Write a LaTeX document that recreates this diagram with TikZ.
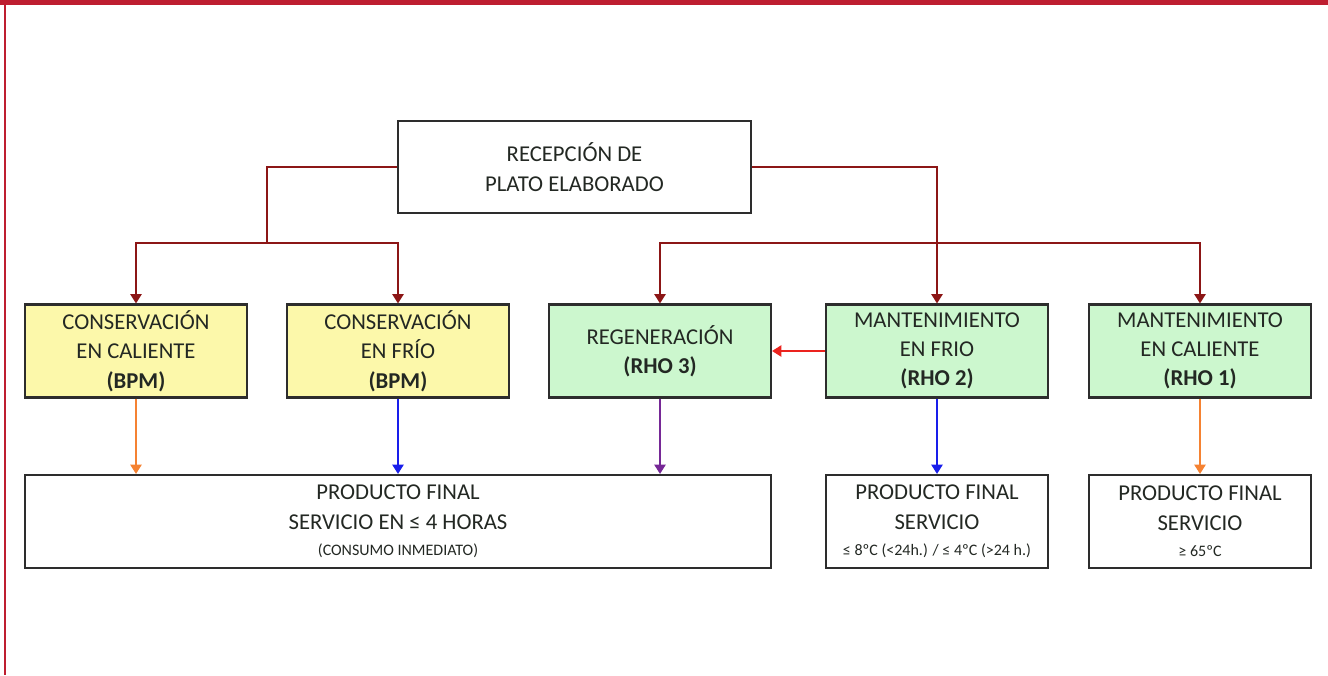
\documentclass[tikz,border=0pt]{standalone}
\usepackage{fontspec}
\setmainfont{Carlito}
\usetikzlibrary{arrows.meta}

\definecolor{frame}{RGB}{190,30,48}
\definecolor{treeline}{RGB}{140,22,22}
\definecolor{boxyellow}{RGB}{252,248,170}
\definecolor{boxgreen}{RGB}{204,247,206}
\definecolor{hotline}{RGB}{245,130,50}
\definecolor{coldline}{RGB}{25,30,235}
\definecolor{regenline}{RGB}{118,40,150}
\definecolor{backline}{RGB}{235,35,30}
\definecolor{boxtext}{RGB}{35,40,35}

\tikzset{every picture/.style={line width=0.75pt}}
\tikzset{
  stepbox/.style={draw={rgb,255:red,45;green,45;blue,45}, line width=1.6pt, align=center,
    text=boxtext, inner sep=0pt, minimum width=166.5pt, minimum height=69.75pt,
    font=\fontsize{17}{22}\selectfont},
  bpm/.style={stepbox, fill=boxyellow},
  rho/.style={stepbox, fill=boxgreen},
  final/.style={stepbox, fill=white},
  tip/.style={line width=1.2pt, -{Triangle[width=8.5pt,length=7pt]}},
  tree/.style={draw=treeline, line width=1.2pt}
}

\begin{document}
\begin{tikzpicture}[x=0.75pt,y=0.75pt,yscale=-1,xscale=1]
\useasboundingbox (0,0) rectangle (1328,675);

% frame
\fill[frame] (0,0) rectangle (1328,4.5);
\draw[frame, line width=1.6pt] (5,0) -- (5,675);

% Top node
\node[final, minimum width=264.75pt, minimum height=69pt] (rec) at (574.5,167) {RECEPCIÓN DE\\PLATO ELABORADO};

% Middle row
\node[bpm] (cc) at (136,351) {CONSERVACIÓN\\EN CALIENTE\\\textbf{(BPM)}};
\node[bpm] (cf) at (398,351) {CONSERVACIÓN\\EN FRÍO\\\textbf{(BPM)}};
\node[rho] (rg) at (660,351) {REGENERACIÓN\\\textbf{(RHO 3)}};
\node[rho] (mf) at (937,351) {MANTENIMIENTO\\EN FRIO\\\textbf{(RHO 2)}};
\node[rho] (mc) at (1200,351) {MANTENIMIENTO\\EN CALIENTE\\\textbf{(RHO 1)}};

% Bottom row
\node[final, minimum width=559.5pt] (pf) at (398,521.5) {PRODUCTO FINAL\\SERVICIO EN ≤ 4 HORAS\\[-2pt]{\fontsize{12}{15}\selectfont (CONSUMO INMEDIATO)}};
\node[final] (pfc) at (937,521.5) {PRODUCTO FINAL\\SERVICIO\\[-2pt]{\fontsize{12}{15}\selectfont ≤ 8ºC (<24h.) / ≤ 4ºC (>24 h.)}};
\node[final] (pfh) at (1200,521.5) {PRODUCTO FINAL\\SERVICIO\\[-2pt]{\fontsize{12}{15}\selectfont ≥ 65ºC}};

% Split points
\coordinate (lsplit) at (267,243);
\coordinate (rsplit) at (937,243);

% Connection
\draw[tree] (rec.west) -| (lsplit);
\draw[tree, tip] (lsplit) -| (cc.north);
\draw[tree, tip] (lsplit) -| (cf.north);
\draw[tree, tip] (rec.east) -| (mf.north);
\draw[tree, tip] (rsplit) -| (rg.north);
\draw[tree, tip] (rsplit) -| (mc.north);

% Connection
\draw[hotline, tip] (cc.south) -- (cc.south |- pf.north);
\draw[coldline, tip] (cf.south) -- (cf.south |- pf.north);
\draw[regenline, tip] (rg.south) -- (rg.south |- pf.north);
\draw[coldline, tip] (mf.south) -- (pfc.north);
\draw[hotline, tip] (mc.south) -- (pfh.north);
\draw[backline, tip] (mf.west) -- (rg.east);

\end{tikzpicture}
\end{document}
